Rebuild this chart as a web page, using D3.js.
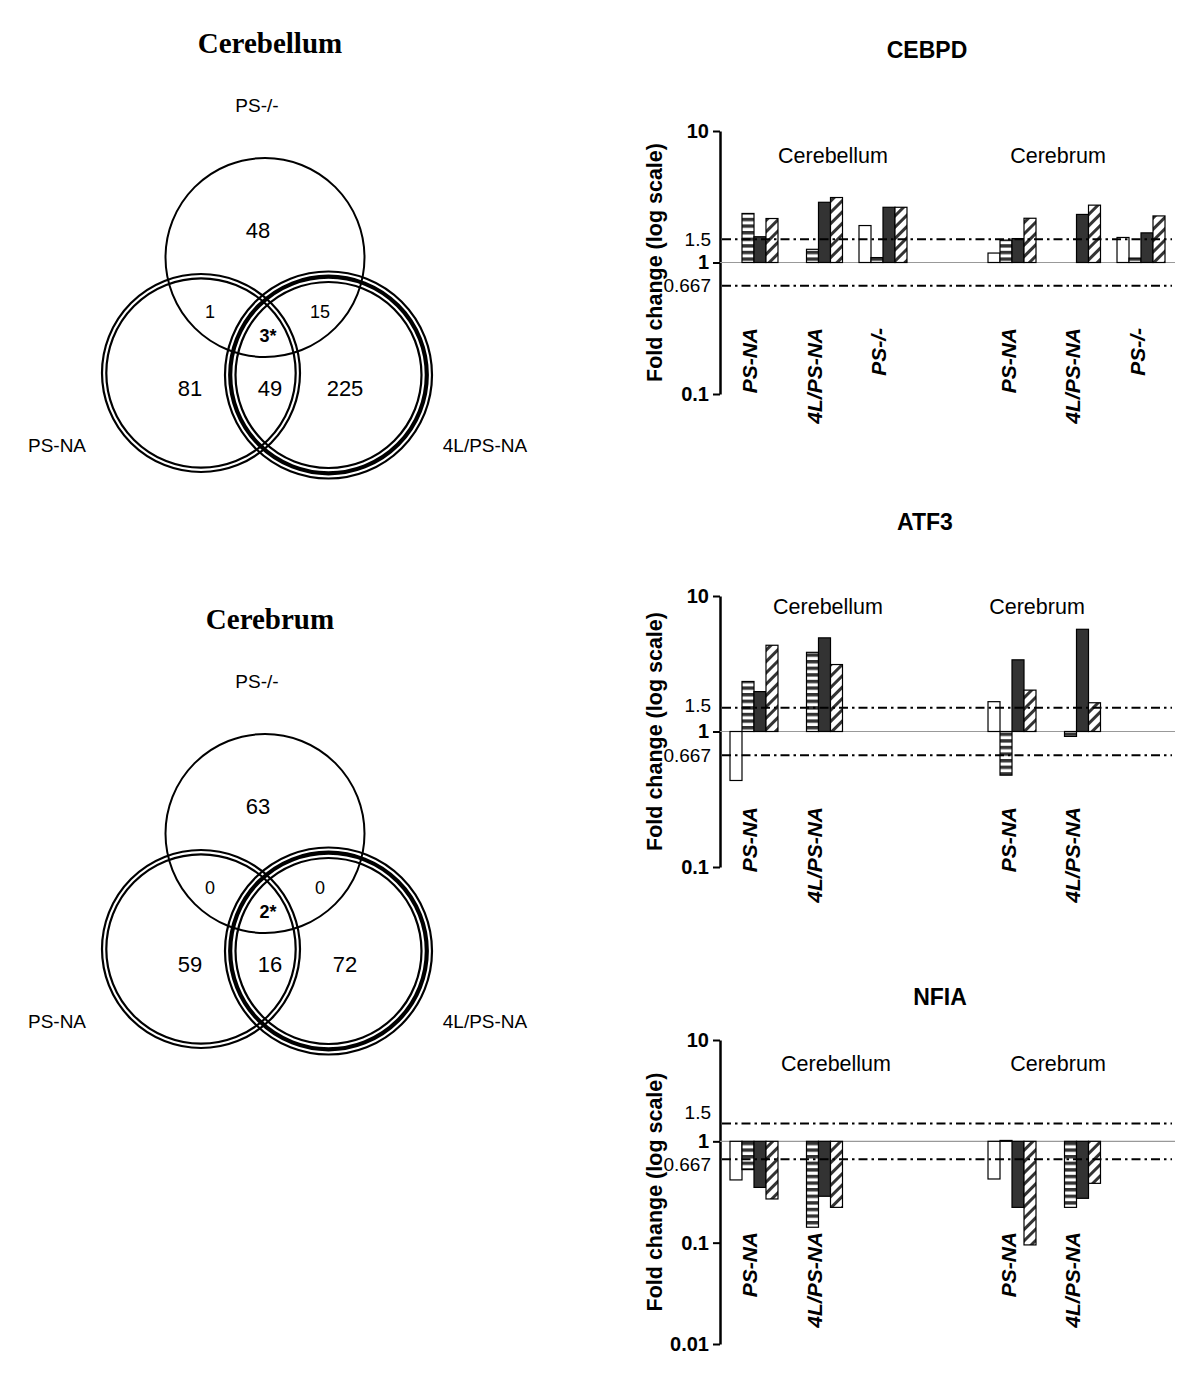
<!DOCTYPE html>
<html>
<head>
<meta charset="utf-8">
<script src="https://cdn.jsdelivr.net/npm/d3@7"></script>
<style>
  body { margin: 0; background: #fff; }
</style>
</head>
<body>
<svg id="fig"></svg>
<script>
// ---- data ----
const vennSets = ["PS-/-", "PS-NA", "4L/PS-NA"];
// region order: only PS-/-, PS-/- & PS-NA, PS-/- & 4L, all three, only PS-NA, PS-NA & 4L, only 4L
const cerebellumCounts = [48, 1, 15, 3, 81, 49, 225];
const cerebrumCounts = [63, 0, 0, 2, 59, 16, 72];

const regions = ["Cerebellum", "Cerebrum"];
const models = ["PS-NA", "4L/PS-NA", "PS-/-"];
const series = ["open", "stripe", "solid", "hatch"];

// CEBPD: 6 groups (Cerebellum x 3 models, Cerebrum x 3 models)
const cebpdRegion = ["Cerebellum", "Cerebellum", "Cerebellum", "Cerebrum", "Cerebrum", "Cerebrum"];
const cebpdModel = ["PS-NA", "4L/PS-NA", "PS-/-", "PS-NA", "4L/PS-NA", "PS-/-"];
const cebpdOpen = [null, null, 1.91, 1.18, null, 1.55];
const cebpdStripe = [2.36, 1.26, 1.09, 1.48, null, 1.08];
const cebpdSolid = [1.57, 2.87, 2.63, 1.52, 2.32, 1.68];
const cebpdHatch = [2.16, 3.12, 2.63, 2.17, 2.73, 2.26];

// ATF3 and NFIA: 4 groups
const twoRegion = ["Cerebellum", "Cerebellum", "Cerebrum", "Cerebrum"];
const twoModel = ["PS-NA", "4L/PS-NA", "PS-NA", "4L/PS-NA"];
const atf3Open = [0.435, null, 1.66, null];
const atf3Stripe = [2.34, 3.84, 0.476, 0.92];
const atf3Solid = [1.97, 4.91, 3.38, 5.68];
const atf3Hatch = [4.33, 3.12, 2.02, 1.63];

const nfiaOpen = [0.416, null, 0.425, null];
const nfiaStripe = [0.526, 0.142, 1.02, 0.223];
const nfiaSolid = [0.351, 0.287, 0.223, 0.274];
const nfiaHatch = [0.27, 0.223, 0.095, 0.385];

const thresholds = [1.5, 0.667];

// ---- setup ----
const W = 1200, H = 1392;
const sans = "'Liberation Sans', Arial, sans-serif";
const svg = d3.select("#fig")
  .attr("width", W)
  .attr("height", H)
  .style("font-family", sans);

const defs = svg.append("defs");
const hs = defs.append("pattern").attr("id", "hstripe")
  .attr("patternUnits", "userSpaceOnUse").attr("width", 6).attr("height", 6.6);
hs.append("rect").attr("width", 6).attr("height", 6.6).attr("fill", "#fff");
hs.append("rect").attr("width", 6).attr("height", 3.4).attr("fill", "#333");

const ht = defs.append("pattern").attr("id", "hatch")
  .attr("patternUnits", "userSpaceOnUse").attr("width", 8).attr("height", 8)
  .attr("patternTransform", "rotate(45)");
ht.append("rect").attr("width", 8).attr("height", 8).attr("fill", "#fff");
ht.append("rect").attr("width", 3).attr("height", 8).attr("fill", "#333");

const fills = { open: "#fff", stripe: "url(#hstripe)", solid: "#333", hatch: "url(#hatch)" };

// ---- Venn diagrams ----
const circles = [
  { cx: 265, cy: 257.5, rings: [[99.5, 2]] },
  { cx: 201, cy: 373, rings: [[99, 2.2], [94.7, 2.2]] },
  { cx: 328.5, cy: 375, rings: [[103.5, 2.2], [98.3, 4.2], [93, 2.2]] }
];
const countPos = [[258, 230], [210, 312], [320, 312], [268, 336], [190, 388], [270, 388], [345, 388]];
const countSize = [22, 18, 18, 18, 22, 22, 22];
const setLabelPos = [[257, 105], [57, 445], [485, 445]];

function drawVenn(offsetY, title, counts) {
  const g = svg.append("g").attr("transform", `translate(0,${offsetY})`);
  g.append("text")
    .attr("x", 270).attr("y", 53)
    .attr("text-anchor", "middle")
    .style("font-family", "'Liberation Serif', 'Times New Roman', serif")
    .style("font-weight", "bold")
    .style("font-size", "29px")
    .text(title);

  circles.forEach(c => {
    c.rings.forEach(([r, sw]) => {
      g.append("circle")
        .attr("cx", c.cx).attr("cy", c.cy).attr("r", r)
        .attr("fill", "none").attr("stroke", "#000").attr("stroke-width", sw);
    });
  });

  g.selectAll("text.count")
    .data(counts)
    .enter()
    .append("text")
    .attr("class", "count")
    .attr("x", (d, i) => countPos[i][0])
    .attr("y", (d, i) => countPos[i][1])
    .attr("dy", "0.36em")
    .attr("text-anchor", "middle")
    .style("font-size", (d, i) => countSize[i] + "px")
    .style("font-weight", (d, i) => i === 3 ? "bold" : "normal")
    .text((d, i) => i === 3 ? d + "*" : d);

  g.selectAll("text.setlab")
    .data(vennSets)
    .enter()
    .append("text")
    .attr("class", "setlab")
    .attr("x", (d, i) => setLabelPos[i][0])
    .attr("y", (d, i) => setLabelPos[i][1])
    .attr("dy", "0.36em")
    .attr("text-anchor", "middle")
    .style("font-size", "19px")
    .text(d => d);
}

drawVenn(0, "Cerebellum", cerebellumCounts);
drawVenn(576, "Cerebrum", cerebrumCounts);

// ---- bar charts ----
const axisX = 720;
const lineEnd = 1172;

const xRegion = d3.scaleBand().domain(regions).range([730, 1165]).paddingInner(0.314);
const xModel = d3.scaleBand().domain(models).range([0, xRegion.bandwidth()]).paddingInner(0.256);
const xSeries = d3.scaleBand().domain(series).range([0, xModel.bandwidth()]);

const charts = [
  {
    title: "CEBPD", titleX: 927, titleY: 58,
    yMin: 0.1, yRange: [394, 131], ticks: [10, 1, 0.1], thrShift: [0, 0],
    labelTop: 328, regionX: [833, 1058], regionY: 163,
    region: cebpdRegion, model: cebpdModel,
    values: { open: cebpdOpen, stripe: cebpdStripe, solid: cebpdSolid, hatch: cebpdHatch }
  },
  {
    title: "ATF3", titleX: 925, titleY: 530,
    yMin: 0.1, yRange: [867, 596], ticks: [10, 1, 0.1], thrShift: [-2, 0],
    labelTop: 807, regionX: [828, 1037], regionY: 614,
    region: twoRegion, model: twoModel,
    values: { open: atf3Open, stripe: atf3Stripe, solid: atf3Solid, hatch: atf3Hatch }
  },
  {
    title: "NFIA", titleX: 940, titleY: 1005,
    yMin: 0.01, yRange: [1344, 1040], ticks: [10, 1, 0.1, 0.01], thrShift: [-11, 5],
    labelTop: 1232, regionX: [836, 1058], regionY: 1071,
    region: twoRegion, model: twoModel,
    values: { open: nfiaOpen, stripe: nfiaStripe, solid: nfiaSolid, hatch: nfiaHatch }
  }
];

charts.forEach(ch => {
  const g = svg.append("g");
  const y = d3.scaleLog().domain([ch.yMin, 10]).range(ch.yRange);

  // title
  g.append("text")
    .attr("x", ch.titleX).attr("y", ch.titleY)
    .attr("text-anchor", "middle")
    .style("font-weight", "bold").style("font-size", "23px")
    .text(ch.title);

  // region labels
  g.selectAll("text.region")
    .data(regions)
    .enter()
    .append("text")
    .attr("class", "region")
    .attr("x", (d, i) => ch.regionX[i])
    .attr("y", ch.regionY)
    .attr("text-anchor", "middle")
    .style("font-size", "21.5px")
    .text(d => d);

  // y axis
  const ax = g.append("g")
    .attr("transform", `translate(${axisX},0)`)
    .call(d3.axisLeft(y).tickValues(ch.ticks).tickFormat(d => String(d))
      .tickSize(7).tickSizeOuter(0).tickPadding(4));
  ax.select(".domain").attr("stroke-width", 2.5);
  ax.selectAll(".tick line").attr("stroke-width", 2);
  ax.selectAll(".tick text")
    .attr("fill", "#000")
    .style("font-family", sans).style("font-weight", "bold").style("font-size", "20px");

  const thr = g.append("g")
    .attr("transform", `translate(${axisX},0)`)
    .call(d3.axisLeft(y).tickValues(thresholds).tickFormat(d => String(d))
      .tickSize(0).tickPadding(9));
  thr.select(".domain").remove();
  thr.selectAll(".tick text")
    .attr("fill", "#000")
    .attr("y", (d, i) => ch.thrShift[i])
    .style("font-family", sans).style("font-size", "19px");

  // y axis title
  const mid = (ch.yRange[0] + ch.yRange[1]) / 2;
  g.append("text")
    .attr("transform", `translate(662,${mid}) rotate(-90)`)
    .attr("text-anchor", "middle")
    .style("font-weight", "bold").style("font-size", "21.5px")
    .text("Fold change (log scale)");

  // baseline at 1
  g.append("line")
    .attr("x1", axisX).attr("x2", lineEnd + 3)
    .attr("y1", y(1)).attr("y2", y(1))
    .attr("stroke", "#999").attr("stroke-width", 1.2);

  // bars
  const bars = [];
  ch.region.forEach((r, i) => {
    series.forEach(s => {
      const v = ch.values[s][i];
      if (v != null) bars.push({ r, m: ch.model[i], s, v });
    });
  });
  g.selectAll("rect.bar")
    .data(bars)
    .enter()
    .append("rect")
    .attr("class", "bar")
    .attr("x", d => xRegion(d.r) + xModel(d.m) + xSeries(d.s))
    .attr("y", d => Math.min(y(d.v), y(1)))
    .attr("width", xSeries.bandwidth())
    .attr("height", d => Math.abs(y(1) - y(d.v)))
    .attr("fill", d => fills[d.s])
    .attr("stroke", "#000")
    .attr("stroke-width", 1.2);

  // threshold lines
  g.selectAll("line.thr")
    .data(thresholds)
    .enter()
    .append("line")
    .attr("class", "thr")
    .attr("x1", axisX + 2).attr("x2", lineEnd)
    .attr("y1", d => y(d)).attr("y2", d => y(d))
    .attr("stroke", "#000").attr("stroke-width", 2)
    .attr("stroke-dasharray", "9,4,2.5,4");

  // group labels
  g.selectAll("text.grp")
    .data(ch.region.map((r, i) => ({ r, m: ch.model[i] })))
    .enter()
    .append("text")
    .attr("class", "grp")
    .attr("transform", d => {
      const cx = xRegion(d.r) + xModel(d.m) + xModel.bandwidth() / 2 + 3.5;
      return `translate(${cx},${ch.labelTop}) rotate(-90)`;
    })
    .attr("text-anchor", "end")
    .style("font-weight", "bold").style("font-style", "italic").style("font-size", "21px")
    .text(d => d.m);
});
</script>
</body>
</html>
